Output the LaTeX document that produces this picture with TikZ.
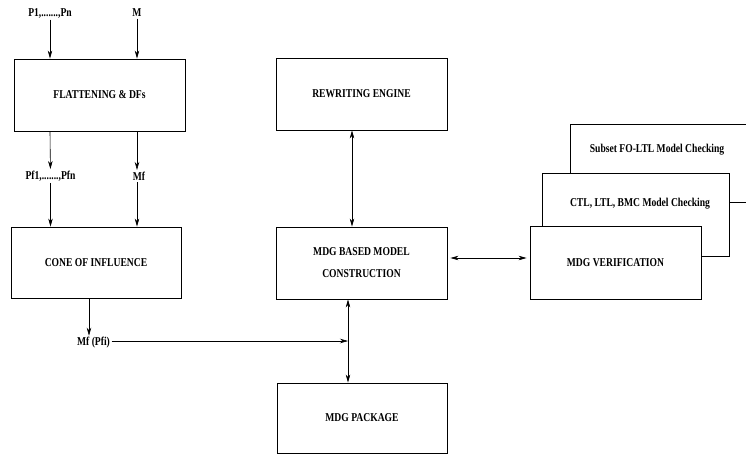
\documentclass[tikz,border=0pt]{standalone}
\usepackage{fontspec}
\setmainfont{Liberation Serif}[FakeStretch=0.8]
\usepackage{tikz}
\usetikzlibrary{arrows.meta}

\begin{document}
\begin{tikzpicture}[x=1pt,y=-1pt,font=\fontsize{12}{14.5}\selectfont\bfseries,
  >={Stealth[length=8pt,width=4.5pt,inset=2.5pt]},line width=0.6pt]
\tikzstyle{blk}=[draw,shape=rectangle,fill=white,line width=0.9pt,inner sep=0pt]
\tikzstyle{lbl}=[inner sep=1.5pt]
\useasboundingbox (0,0) rectangle (746,455);
\clip (0,0) rectangle (746,455);

% left column
\node[lbl](pin) at (50,13){P1,.......,Pn};
\node[lbl](min) at (137,13){M};
\node[blk,minimum width=171,minimum height=72](flat) at (99.5,95){FLATTENING \& DFs};
\node[lbl](pfn) at (50.5,176){Pf1,.......,Pfn};
\node[lbl](mf) at (139,176){Mf};
\node[blk,minimum width=170,minimum height=71](cone) at (96,262.5){CONE OF INFLUENCE};
\node[lbl](mfp) at (93.5,343){Mf (Pfi)};
%
% middle column
\node[blk,minimum width=171,minimum height=72](rew) at (361.5,94){REWRITING ENGINE};
\node[blk,minimum width=171,minimum height=72,align=center](mdgb) at (361.5,263){MDG BASED MODEL\\[7.5pt]CONSTRUCTION};
\node[blk,minimum width=170,minimum height=70](pkg) at (362,418){MDG PACKAGE};
\coordinate (jn) at (348,341);
%
% verification stack
\node[blk,minimum width=200,minimum height=78](sub) at (670,163){};
\node[lbl](subt) at (657,150){Subset FO-LTL Model Checking};
\node[blk,minimum width=187,minimum height=83](ctl) at (635.5,214.5){};
\node[lbl](ctlt) at (640,204){CTL, LTL, BMC Model Checking};
\node[blk,minimum width=171,minimum height=73](ver) at (615.5,262.5){MDG VERIFICATION};
%
\draw[->] (pin) -- (pin |- flat.north);
\draw[->] (min) -- (min |- flat.north);
\draw[->] (flat.south -| pin) -- (pfn);
\draw[->] (flat.south -| min) -- (min |- mf.north);
\draw[->] (pfn) -- (pfn |- cone.north);
\draw[->] (min |- mf.south) -- (min |- cone.north);
\draw[->] ([xshift=-4.5pt]mfp.north |- cone.south) -- ([xshift=-4.5pt]mfp.north);
\draw[->] (mfp.east |- jn) -- (jn);
%
\draw[<->] ([xshift=-9.5pt]rew.south) -- ([xshift=-9.5pt]mdgb.north);
\draw[<->] (jn |- mdgb.south) -- (jn |- pkg.north);
\draw[<->,shorten <=3pt,shorten >=3pt] ([yshift=5pt]mdgb.east) -- ([yshift=5pt]mdgb.east -| ver.west);
\end{tikzpicture}
\end{document}
